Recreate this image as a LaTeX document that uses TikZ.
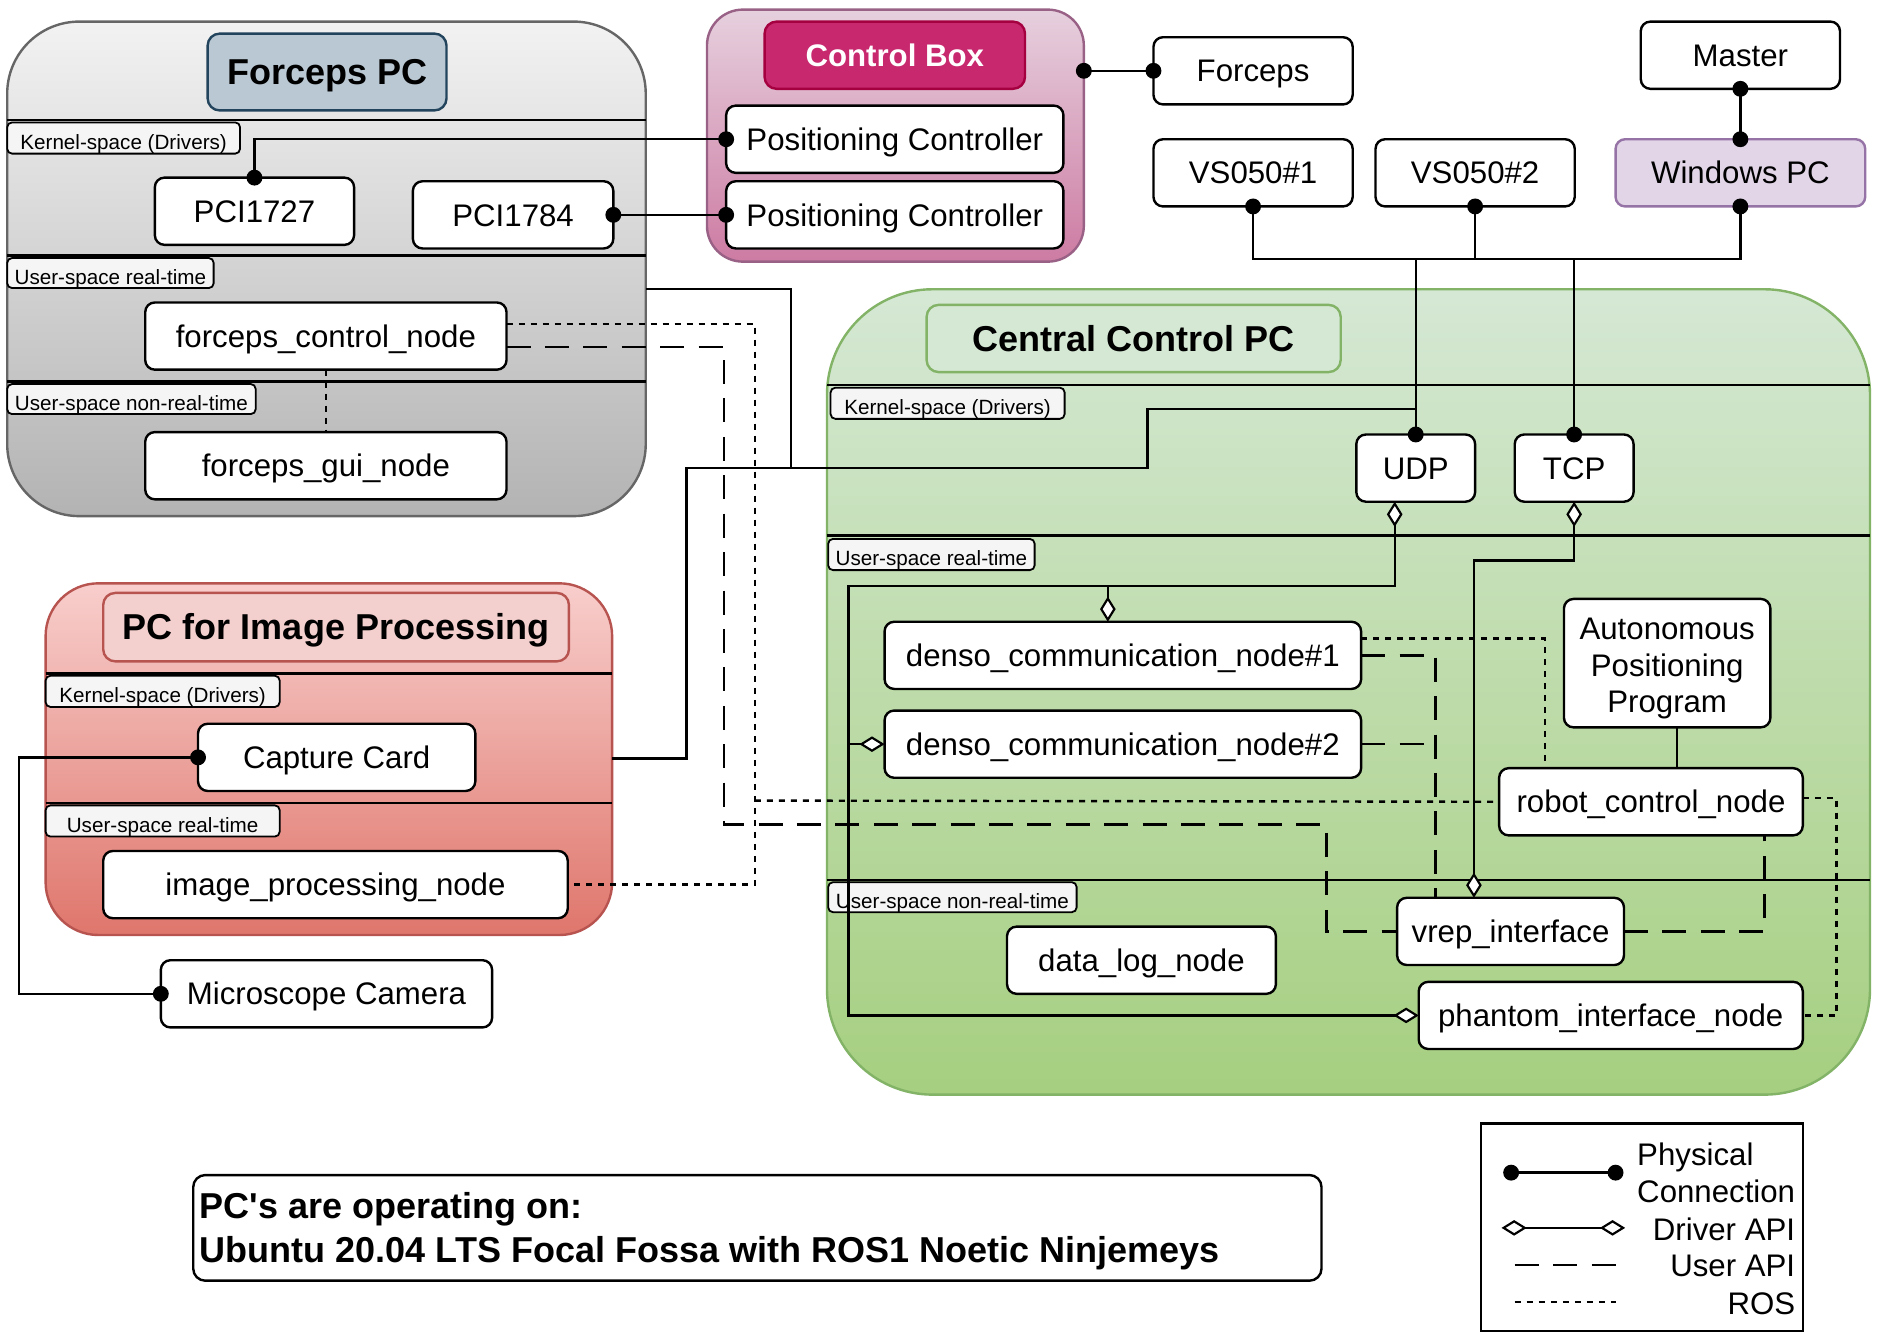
\documentclass[tikz,border=0pt]{standalone}
\usepackage{fontspec}
\setmainfont{Liberation Sans}
\usetikzlibrary{arrows.meta}
\definecolor{fpcTop}{HTML}{F2F2F2}
\definecolor{fpcBot}{HTML}{B3B3B3}
\definecolor{fpcLine}{HTML}{666666}
\definecolor{fpcTitle}{HTML}{BAC8D3}
\definecolor{fpcTitleLine}{HTML}{23445D}
\definecolor{cbTop}{HTML}{E6D0DE}
\definecolor{cbBot}{HTML}{CD7BA2}
\definecolor{cbLine}{HTML}{996185}
\definecolor{cbTitle}{HTML}{C8286E}
\definecolor{cbTitleLine}{HTML}{A50040}
\definecolor{ipTop}{HTML}{F8CECC}
\definecolor{ipBot}{HTML}{DF766C}
\definecolor{ipLine}{HTML}{B85450}
\definecolor{ipTitle}{HTML}{F3D0CE}
\definecolor{ccTop}{HTML}{D5E8D4}
\definecolor{ccBot}{HTML}{A6CF80}
\definecolor{ccLine}{HTML}{82B366}
\definecolor{winFill}{HTML}{E1D5E7}
\definecolor{winLine}{HTML}{9673A6}
\definecolor{lblFill}{HTML}{F5F5F5}
\newcommand\placebox[7][]{\node[#1, minimum width={(#5-#3)*0.5pt}, minimum height={(#6-#4)*0.5pt}] (#2) at ({(#3+#5)/2},{(#4+#6)/2}) {#7};}
\tikzset{
 box/.style={draw=black, line width=1pt, fill=white, rounded corners=4pt, inner sep=0pt, outer sep=0pt, align=center, font=\fontsize{13}{15.25}\selectfont, text height=9.3pt, text depth=0pt},
 cont/.style={line width=1pt, inner sep=0pt, outer sep=0pt},
 ttl/.style={line width=1pt, rounded corners=5pt, inner sep=0pt, outer sep=0pt, font=\bfseries\fontsize{15}{18}\selectfont, text height=10.7pt, text depth=0pt},
 lbl/.style={draw=black, fill=lblFill, line width=0.75pt, rounded corners=2pt, inner sep=0pt, outer sep=0pt, font=\fontsize{8.6}{10}\selectfont, text height=9.2pt, text depth=0pt},
 sepline/.style={line width=1pt, draw=black},
 phys/.style={line width=1pt},
 dotS/.style={{Circle[length=6.6pt]}-, shorten <=-3.3pt},
 dotE/.style={-{Circle[length=6.6pt]}, shorten >=-3.3pt},
 dotB/.style={{Circle[length=6.6pt]}-{Circle[length=6.6pt]}, shorten <=-3.3pt, shorten >=-3.3pt},
 dmd/.tip={Diamond[length=10.5pt,width=6.5pt,fill=white,line width=0.9pt]},
 dmdE/.style={-dmd},
 dmdB/.style={dmd-dmd},
 uapi/.style={line width=1pt, dash pattern=on 10pt off 6pt},
 ros/.style={line width=1pt, dash pattern=on 2.5pt off 2.5pt},
 lgtext/.style={inner sep=0pt, align=right, anchor=east, font=\fontsize{13}{15.5}\selectfont},
}
\begin{document}
\begin{tikzpicture}[x=0.5pt,y=-0.5pt]
\useasboundingbox (0,0) rectangle (1568,1118);
\fill[white] (0,0) rectangle (1568,1118);

% ---------- Forceps PC ----------
\placebox[cont, draw=fpcLine, top color=fpcTop, bottom color=fpcBot, rounded corners=30pt]{fpc}{6}{18}{538}{430}{}
\placebox[ttl, draw=fpcTitleLine, fill=fpcTitle]{fpctitle}{173}{28}{372}{92}{Forceps PC}
\draw[sepline] (6,100) -- (538,100);
\draw[sepline] (6,213) -- (538,213);
\draw[sepline] (6,318) -- (538,318);
\placebox[lbl]{fpcK}{6}{102}{200}{128}{Kernel-space (Drivers)}
\placebox[lbl]{fpcU}{6}{215}{178}{240}{User-space real-time}
\placebox[lbl]{fpcN}{6}{320}{213}{345}{User-space non-real-time}
\placebox[box]{pci1727}{129}{148}{295}{204}{PCI1727}
\placebox[box]{pci1784}{344}{151}{511}{207}{PCI1784}
\placebox[box]{fcn}{121}{252}{422}{308}{forceps\_control\_node}
\placebox[box]{fgn}{121}{360}{422}{416}{forceps\_gui\_node}

% ---------- Control Box ----------
\placebox[cont, draw=cbLine, top color=cbTop, bottom color=cbBot, rounded corners=15pt]{cbox}{589}{8}{903}{218}{}
\placebox[ttl, draw=cbTitleLine, fill=cbTitle, text=white, font=\bfseries\fontsize{13}{15.5}\selectfont, text height=9.3pt]{cbtitle}{637}{18}{854}{74}{Control Box}
\placebox[box]{pc1}{605}{88}{886}{144}{Positioning Controller}
\placebox[box]{pc2}{605}{151}{886}{207}{Positioning Controller}

% ---------- External devices ----------
\placebox[box]{forceps}{961}{31}{1127}{87}{Forceps}
\placebox[box]{vs1}{961}{116}{1127}{172}{VS050\#1}
\placebox[box]{vs2}{1146}{116}{1312}{172}{VS050\#2}
\placebox[box]{master}{1367}{18}{1533}{74}{Master}
\placebox[box, fill=winFill, draw=winLine]{winpc}{1346}{116}{1554}{172}{Windows PC}

% ---------- Central Control PC ----------
\placebox[cont, draw=ccLine, top color=ccTop, bottom color=ccBot, rounded corners=44pt]{ccpc}{689}{241}{1558}{912}{}
\placebox[ttl, draw=ccLine, fill=ccTop]{cctitle}{772}{254}{1117}{310}{Central Control PC}
\draw[sepline] (689,321) -- (1558,321);
\draw[sepline] (689,446) -- (1558,446);
\draw[sepline] (689,733) -- (1558,733);
\placebox[lbl]{ccK}{692}{323}{887}{349}{Kernel-space (Drivers)}
\placebox[lbl]{ccU}{690}{449}{862}{475}{User-space real-time}
\placebox[lbl]{ccN}{690}{735}{897}{760}{User-space non-real-time}
\placebox[box]{udp}{1130}{362}{1229}{418}{UDP}
\placebox[box]{tcp}{1262}{362}{1361}{418}{TCP}
\placebox[box]{denso1}{737}{518}{1134}{574}{denso\_communication\_node\#1}
\placebox[box]{denso2}{737}{592}{1134}{648}{denso\_communication\_node\#2}
\placebox[box, text height=41.3pt, text depth=0pt]{auto}{1303}{499}{1475}{606}{Autonomous\\Positioning\\Program}
\placebox[box]{rcn}{1249}{640}{1502}{696}{robot\_control\_node}
\placebox[box]{vrep}{1164}{748}{1353}{804}{vrep\_interface}
\placebox[box]{dlog}{839}{772}{1063}{828}{data\_log\_node}
\placebox[box]{phantom}{1182}{818}{1502}{874}{phantom\_interface\_node}

% ---------- PC for Image Processing ----------
\placebox[cont, draw=ipLine, top color=ipTop, bottom color=ipBot, rounded corners=22pt]{ipc}{38}{486}{510}{779}{}
\placebox[ttl, draw=ipLine, fill=ipTitle]{iptitle}{86}{494}{474}{551}{PC for Image Processing}
\draw[sepline] (38,561) -- (510,561);
\draw[sepline] (38,669) -- (510,669);
\placebox[lbl]{ipK}{38}{563}{233}{589}{Kernel-space (Drivers)}
\placebox[lbl]{ipU}{38}{671}{233}{697}{User-space real-time}
\placebox[box]{capture}{165}{603}{396}{659}{Capture Card}
\placebox[box]{ipn}{86}{709}{473}{765}{image\_processing\_node}
\placebox[box]{mcam}{134}{800}{410}{856}{Microscope Camera}

% ---------- named free ends ----------
\coordinate (cbR) at (903,59);
\coordinate (bus) at (1044,216);
\coordinate (fpcR) at (538,241);
\coordinate (ipcR) at (510,632);
\coordinate (udpJ) at (1180,341);
\coordinate (udpB) at (1162,418);
\coordinate (busL) at (707,488);
\coordinate (rosV) at (629,667);
\coordinate (rosR) at (1530,665);
\coordinate (uA) at (603,687);
\coordinate (uB) at (1105,687);
\coordinate (uC) at (1196,546);
\coordinate (camL) at (16,631);

% ---------- physical connections ----------
\draw[phys,dotB] (pc1.west) -| (pci1727.north);
\draw[phys,dotB] (pci1784.east) -- (pc2.west);
\draw[phys,dotB] (cbR) -- (forceps.west);
\draw[phys,dotB] (master.south) -- (winpc.north);
\draw[phys,dotB] (vs1.south) |- (bus) -| (winpc.south);
\draw[phys,dotS] (vs2.south) -- (vs2.south |- bus);
\draw[phys,dotE] (udp.north |- bus) -- (udp.north);
\draw[phys,dotE] (tcp.north |- bus) -- (tcp.north);
\draw[phys] (fpcR) -- (659,241) -- (659,390);
\draw[phys] (ipcR) -- (572,632) -- (572,390) -- (956,390) -- (956,341) -- (udpJ);
\draw[phys,dotB] (capture.west) -- (camL) |- (mcam.west);

% ---------- driver API ----------
\draw[phys,dmdB] (udpB) |- (busL) |- (phantom.west);
\draw[phys,dmdE] ([xshift=-6.25pt]denso1.north |- busL) -- ([xshift=-6.25pt]denso1.north);
\draw[phys,dmdE] (busL |- denso2.west) -- (denso2.west);
\draw[phys,dmdB] (tcp.south) -- ++(0,49) -| ([xshift=-15.25pt]vrep.north);

% ---------- user API ----------
\draw[uapi] ([yshift=-4.5pt]fcn.east) -| (uA) -- (uB) |- (vrep.west);
\draw[uapi] (denso1.east) -- (uC) -- (uC |- vrep.north);
\draw[uapi] (denso2.east) -- (denso2.east -| uC);
\draw[uapi] (vrep.east) -| ([xshift=47.25pt]rcn.south);

% ---------- ROS ----------
\draw[ros] ([yshift=5pt]fcn.east) -| (rosV) |- (ipn.east);
\draw[ros] (rosV) -- (rcn.west);
\draw[ros] (fcn.south) -- (fgn.north);
\draw[ros] ([yshift=7pt]denso1.east) -| ([xshift=-44.25pt]rcn.north);
\draw[ros] ([yshift=1.5pt]rcn.east) -- (rosR) |- (phantom.east);

% ---------- other ----------
\draw[line width=0.8pt] ([xshift=4pt]auto.south) -- ([xshift=4pt]auto.south |- rcn.north);

% ---------- bottom note ----------
\placebox[draw=black, line width=1pt, rounded corners=5pt, inner sep=0pt, outer sep=0pt]{osbox}{161}{979}{1101}{1067}{}
\node[anchor=west, align=left, inner sep=0pt, font=\bfseries\fontsize{15}{18.5}\selectfont] (ostext) at (166,1026) {PC\textquotesingle s are operating on:\\Ubuntu 20.04 LTS Focal Fossa with ROS1 Noetic Ninjemeys};

% ---------- legend ----------
\placebox[draw=black, line width=1pt, inner sep=0pt, outer sep=0pt]{legend}{1234}{936}{1502}{1109}{}
\coordinate (lg1a) at (1259,977);
\coordinate (lg1b) at (1346,977);
\coordinate (lg2a) at (1251,1023);
\coordinate (lg2b) at (1354,1023);
\coordinate (lg3a) at (1262,1054);
\coordinate (lg3b) at (1346,1054);
\coordinate (lg4a) at (1262,1085);
\coordinate (lg4b) at (1346,1085);
\draw[phys,dotB] (lg1a) -- (lg1b);
\draw[phys,dmdB] (lg2a) -- (lg2b);
\draw[uapi] (lg3a) -- (lg3b);
\draw[ros] (lg4a) -- (lg4b);
\node[lgtext, align=left] (lgt1) at (1496,977) {Physical\\Connection};
\node[lgtext] (lgt2) at (1496,1024) {Driver API};
\node[lgtext] (lgt3) at (1496,1055) {User API};
\node[lgtext] (lgt4) at (1496,1086) {ROS};
\end{tikzpicture}
\end{document}
